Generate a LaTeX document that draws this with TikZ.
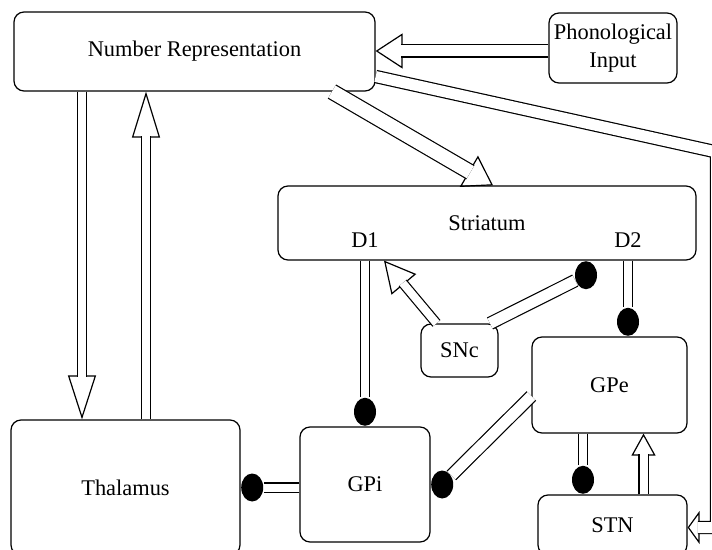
\documentclass[tikz,border=0pt]{standalone}
\usepackage{fontspec}
\setmainfont{Liberation Serif}
\usetikzlibrary{positioning,arrows.meta,shapes.geometric}

\begin{document}
\begin{tikzpicture}[x=0.5pt, y=-0.5pt, line width=0.6pt,
  every node/.style={font=\fontsize{11.2}{14}\selectfont},
  box/.style={draw, rounded corners=5pt, inner sep=0pt, align=center},
  dot/.style={ellipse, fill=black, minimum width=11pt, minimum height=14pt, inner sep=0pt},
  wire/.style={double, double distance=4pt},
  wide/.style={double, double distance=5.5pt},
  hollow/.style n args={3}{-{Triangle[open, length=#1, width=#2]},
    postaction={draw, -, double, double distance=#3, shorten >=#1-0.9pt}}]
\useasboundingbox (0,0) rectangle (712,550);
\clip (0,0) rectangle (712,550);

% boxes
\node[box, minimum width=180.5pt, minimum height=39.5pt] (nr) at (194.5,51.5) {Number Representation};
\node[box, minimum width=64pt, minimum height=35pt] (phon) at (613,48) {Phonological\\Input};
\node[box, minimum width=209pt, minimum height=37pt] (str) at (487,223) {Striatum};
\node (d1) at (365,240) {D1};
\node (d2) at (628,240) {D2};
\node[box, minimum width=38.5pt, minimum height=26.5pt] (snc) at (459.5,350.5) {SNc};
\node[box, minimum width=77.5pt, minimum height=48pt] (gpe) at (609.5,385) {GPe};
\node[box, minimum width=65pt, minimum height=57.5pt] (gpi) at (365,484.5) {GPi};
\node[box, minimum width=114.5pt, minimum height=67.5pt] (thal) at (125.5,487.5) {Thalamus};
\node[box, minimum width=74.5pt, minimum height=30pt] (stn) at (612.5,525) {STN};

% inhibitory ends
\node[dot, above=0pt of gpi] (dgpi) {};
\node[dot, anchor=north] (dsnc) at (str.south -| 586,0) {};
\node[dot, anchor=south] (dgpe) at (gpe.north -| d2) {};
\node[dot, right=0pt of gpi] (dgpi2) {};
\node[dot, right=0pt of thal] (dthal) {};
\node[dot, anchor=south] (dstn) at (stn.north -| 583,0) {};

\coordinate (r1) at (716.5,152);
\coordinate (r2) at (716.5,527.5);

% excitatory
\draw[hollow={13.5pt}{17.5pt}{5.5pt}] (phon.west |- 0,51) -- (nr.east |- 0,51);
\draw[hollow={22pt}{14pt}{4pt}] (nr.south -| 82,0) -- (thal.north -| 82,0);
\draw[hollow={23pt}{14pt}{4pt}] (thal.north -| 146,0) -- (nr.south -| 146,0);
\draw[hollow={14pt}{18pt}{7pt}] (nr.south -| 332,0) -- (str.north -| 493,0);
\draw[hollow={6pt}{16.5pt}{5.5pt}] (nr.east |- 0,76.5) -- (r1) -- (r2) -- (stn.east |- 0,527.5);
\draw[hollow={15.5pt}{16pt}{4pt}] (snc.north -| 436.5,0) -- (str.south -| 384,0);
\draw[hollow={11pt}{12pt}{4pt}] (stn.north -| 643.5,0) -- (gpe.south -| 643.5,0);

% inhibitory
\draw[wire] (str.south -| d1) -- (dgpi);
\draw[wide] (snc.north -| 490,0) -- (dsnc);
\draw[wire] (str.south -| d2) -- (dgpe);
\draw[wide] (gpe.west |- 0,396) -- (dgpi2);
\draw[wire] (dthal -| gpi.west) -- (dthal);
\draw[wire] (gpe.south -| dstn) -- (dstn);
\end{tikzpicture}
\end{document}
